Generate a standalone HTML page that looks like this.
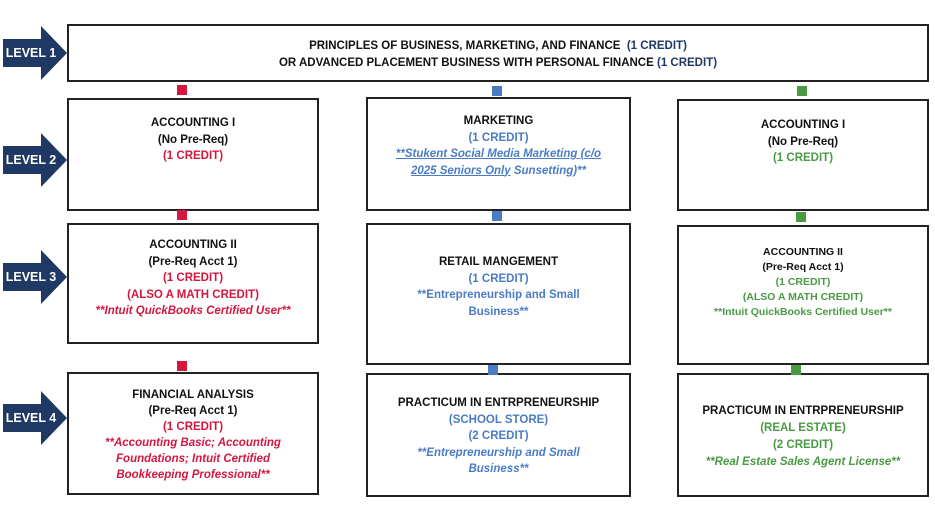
<!DOCTYPE html>
<html><head><meta charset="utf-8"><style>
body{margin:0;width:935px;height:510px;background:#fff;position:relative;overflow:hidden;font-family:"Liberation Sans",Arial,sans-serif;}
.b{position:absolute;border:2px solid #222;box-sizing:border-box;text-align:center;font-weight:bold;font-size:11.5px;line-height:16.5px;color:#111;}
.r{color:#d4173f}.bl{color:#4a7cc4}.g{color:#4a9a44}.nv{color:#1f3864}
.i{font-style:italic}.u{text-decoration:underline}
.sq{position:absolute;width:10px;height:10px}
.rs{background:#d4173f}.bs{background:#4a7cc4}.gs{background:#4a9a44}
.ar{position:absolute;left:3px;width:64px;height:54px}
.ar span{position:absolute;left:0;top:0;width:56px;line-height:54px;text-align:center;color:#fff;font-size:12.5px;font-weight:bold}
</style></head><body>
<div class="b" style="left:67px;top:24px;width:862px;height:58px;padding-top:12px">PRINCIPLES OF BUSINESS, MARKETING, AND FINANCE&nbsp; <span class="nv">(1 CREDIT)</span><br>OR ADVANCED PLACEMENT BUSINESS WITH PERSONAL FINANCE <span class="nv">(1 CREDIT)</span></div>

<div class="b" style="left:67px;top:98px;width:252px;height:113px;padding-top:15px">ACCOUNTING I<br>(No Pre-Req)<br><span class="r">(1 CREDIT)</span></div>
<div class="b" style="left:366px;top:97px;width:265px;height:114px;padding-top:14px">MARKETING<br><span class="bl">(1 CREDIT)</span><br><span class="bl i"><span class="u">**Stukent Social Media Marketing (c/o<br>2025 Seniors Only</span> Sunsetting)**</span></div>
<div class="b" style="left:677px;top:99px;width:252px;height:112px;padding-top:16px">ACCOUNTING I<br>(No Pre-Req)<br><span class="g">(1 CREDIT)</span></div>

<div class="b" style="left:67px;top:223px;width:252px;height:121px;padding-top:12px">ACCOUNTING II<br>(Pre-Req Acct 1)<br><span class="r">(1 CREDIT)<br>(ALSO A MATH CREDIT)<br><span class="i">**Intuit QuickBooks Certified User**</span></span></div>
<div class="b" style="left:366px;top:223px;width:265px;height:142px;padding-top:29px">RETAIL MANGEMENT<br><span class="bl">(1 CREDIT)<br>**Entrepreneurship and Small<br>Business**</span></div>
<div class="b" style="left:677px;top:225px;width:252px;height:140px;padding-top:18px;font-size:10.5px;line-height:15px">ACCOUNTING II<br>(Pre-Req Acct 1)<br><span class="g">(1 CREDIT)<br>(ALSO A MATH CREDIT)<br>**Intuit QuickBooks Certified User**</span></div>

<div class="b" style="left:67px;top:372px;width:252px;height:123px;padding-top:13px;line-height:16px">FINANCIAL ANALYSIS<br>(Pre-Req Acct 1)<br><span class="r">(1 CREDIT)<br><span class="i">**Accounting Basic; Accounting<br>Foundations; Intuit Certified<br>Bookkeeping Professional**</span></span></div>
<div class="b" style="left:366px;top:373px;width:265px;height:124px;padding-top:20px;line-height:16.5px">PRACTICUM IN ENTRPRENEURSHIP<br><span class="bl">(SCHOOL STORE)<br>(2 CREDIT)<br><span class="i">**Entrepreneurship and Small<br>Business**</span></span></div>
<div class="b" style="left:677px;top:373px;width:252px;height:124px;padding-top:28px;line-height:17px">PRACTICUM IN ENTRPRENEURSHIP<br><span class="g">(REAL ESTATE)<br>(2 CREDIT)<br><span class="i">**Real Estate Sales Agent License**</span></span></div>

<div class="sq rs" style="left:177px;top:85px"></div>
<div class="sq rs" style="left:177px;top:210px"></div>
<div class="sq rs" style="left:177px;top:361px"></div>
<div class="sq bs" style="left:492px;top:86px"></div>
<div class="sq bs" style="left:492px;top:211px"></div>
<div class="sq bs" style="left:488px;top:365px"></div>
<div class="sq gs" style="left:797px;top:86px"></div>
<div class="sq gs" style="left:796px;top:212px"></div>
<div class="sq gs" style="left:791px;top:365px"></div>

<div class="ar" style="top:26px"><svg width="64" height="54"><polygon points="0,13 38,13 38,0 64,27 38,54 38,41 0,41" fill="#1f3864"/></svg><span>LEVEL 1</span></div>
<div class="ar" style="top:133px"><svg width="64" height="54"><polygon points="0,13 38,13 38,0 64,27 38,54 38,41 0,41" fill="#1f3864"/></svg><span>LEVEL 2</span></div>
<div class="ar" style="top:250px"><svg width="64" height="54"><polygon points="0,13 38,13 38,0 64,27 38,54 38,41 0,41" fill="#1f3864"/></svg><span>LEVEL 3</span></div>
<div class="ar" style="top:391px"><svg width="64" height="54"><polygon points="0,13 38,13 38,0 64,27 38,54 38,41 0,41" fill="#1f3864"/></svg><span>LEVEL 4</span></div>
</body></html>
